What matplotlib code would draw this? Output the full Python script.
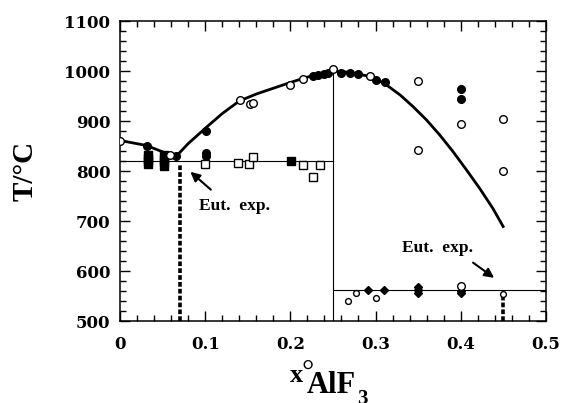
import matplotlib
matplotlib.use("Agg")
import matplotlib.pyplot as plt
from matplotlib.ticker import MultipleLocator

# Fuente tipo Times en negrita, como en la figura original
plt.rcParams['font.family'] = ['Liberation Serif', 'DejaVu Serif']
plt.rcParams['font.weight'] = 'bold'

# Curva del liquidus
curva_x = [0, 0.031, 0.065, 0.08, 0.101, 0.12, 0.14, 0.16, 0.179, 0.2, 0.218, 0.23, 0.24, 0.25,
           0.26, 0.27, 0.288, 0.3, 0.313, 0.329, 0.344, 0.36, 0.3755, 0.391, 0.407, 0.4225,
           0.438, 0.45]
curva_t = [861, 851, 828, 855, 887, 915, 940, 954, 965, 977, 987, 992, 997, 1000,
           999, 997, 991, 985, 972, 952, 929, 902, 872, 839, 802, 765,
           725, 689]

# Círculos abiertos
circ_abiertos_x = [0, 0.058, 0.141, 0.152, 0.156, 0.2, 0.215, 0.25, 0.293, 0.35, 0.35, 0.4, 0.4, 0.45, 0.45]
circ_abiertos_t = [860, 833, 942, 935, 937, 973, 985, 1005, 991, 981, 843, 895, 570, 904, 801]

# Círculos llenos
circ_llenos_x = [0.031, 0.065, 0.101, 0.101, 0.101, 0.226, 0.233, 0.239, 0.244, 0.26, 0.27, 0.279,
                 0.3, 0.311, 0.4, 0.4]
circ_llenos_t = [850, 830, 881, 837, 830, 990, 993, 994, 997, 997, 997, 995, 983, 979, 965, 944]

# Cuadrados llenos y abiertos
cuad_llenos_x = [0.033, 0.033, 0.033, 0.033, 0.052, 0.052, 0.052, 0.052, 0.201]
cuad_llenos_t = [832, 826, 820, 814, 832, 825, 818, 811, 821]
cuad_abiertos_x = [0.1, 0.139, 0.151, 0.156, 0.215, 0.226, 0.235]
cuad_abiertos_t = [815, 817, 815, 829, 812, 789, 812]

# Rombos llenos y puntos pequeños abiertos (zona de la segunda eutéctica)
rombos_x = [0.291, 0.31, 0.35, 0.35, 0.35, 0.4, 0.4]
rombos_t = [562, 563, 568, 562, 556, 561, 556]
peq_abiertos_x = [0.268, 0.277, 0.3, 0.45]
peq_abiertos_t = [541, 557, 547, 555]

# Eutécticas y posiciones experimentales
eut1_t = 820
eut2_t = 563
x_sep = 0.25
eut1_x = 0.07
eut2_x = 0.45

fig = plt.figure(figsize=(5.68, 4.03), dpi=100)
ax = fig.add_axes([120.2 / 568, 1 - 321 / 403, (545.7 - 120.2) / 568, 300 / 403])

# Líneas finas: eutécticas y separación
ax.plot([0, x_sep], [eut1_t, eut1_t], color='black', lw=0.8)
ax.plot([x_sep, 0.5], [eut2_t, eut2_t], color='black', lw=0.8)
ax.plot([x_sep, x_sep], [500, 1000], color='black', lw=0.8)

# Líneas punteadas gruesas
ax.plot([eut1_x, eut1_x], [500, eut1_t - 5], color='black', lw=2.6, ls=(0, (1.3, 0.6)))
ax.plot([eut2_x, eut2_x], [500, 555], color='black', lw=2.6, ls=(0, (1.3, 0.6)))

# Curva
ax.plot(curva_x, curva_t, color='black', lw=2.0, zorder=3, solid_joinstyle='round')

# Puntos experimentales
ax.plot(cuad_llenos_x, cuad_llenos_t, 's', ms=5.5, color='black', zorder=4)
ax.plot(cuad_abiertos_x, cuad_abiertos_t, 's', ms=5.5, mfc='white', mec='black', mew=1.0, zorder=4)
ax.plot(circ_llenos_x, circ_llenos_t, 'o', ms=5.5, color='black', zorder=4)
ax.plot(circ_abiertos_x, circ_abiertos_t, 'o', ms=5.5, mfc='white', mec='black', mew=1.0, zorder=5)
ax.plot(rombos_x, rombos_t, 'D', ms=4.5, color='black', zorder=4)
ax.plot(peq_abiertos_x, peq_abiertos_t, 'o', ms=4.2, mfc='white', mec='black', mew=1.0, zorder=5)

# Anotaciones
ax.text(0.0925, 722, 'Eut.  exp.', fontsize=12.5, fontweight='bold', ha='left', va='baseline')
ax.annotate('', xy=(0.080, 802), xytext=(0.109, 759),
            arrowprops=dict(arrowstyle='-|>', color='black', lw=1.5, mutation_scale=14))
ax.text(0.331, 639, 'Eut.  exp.', fontsize=12.5, fontweight='bold', ha='left', va='baseline')
ax.annotate('', xy=(0.442, 583), xytext=(0.412, 620),
            arrowprops=dict(arrowstyle='-|>', color='black', lw=1.5, mutation_scale=14))

ax.set_xlim(0, 0.5)
ax.set_ylim(500, 1100)
ax.xaxis.set_minor_locator(MultipleLocator(0.02))
ax.yaxis.set_major_locator(MultipleLocator(100))
ax.yaxis.set_minor_locator(MultipleLocator(20))
ax.set_xticks([0, 0.1, 0.2, 0.3, 0.4, 0.5])
ax.set_xticklabels(['0', '0.1', '0.2', '0.3', '0.4', '0.5'])
ax.tick_params(which='both', direction='in', top=True, right=True, width=1.0)
ax.tick_params(which='major', length=7)
ax.tick_params(which='minor', length=4)
ax.tick_params(axis='x', pad=11)
ax.tick_params(axis='y', pad=7)
# Las cifras del original son anchas y espaciadas: DejaVu Serif se acerca más
for lab in ax.get_xticklabels() + ax.get_yticklabels():
    lab.set_family('DejaVu Serif')
    lab.set_fontsize(12)
    lab.set_fontweight('bold')
for s in ax.spines.values():
    s.set_linewidth(1.1)

ax.set_ylabel('T/°C', fontsize=21, fontweight='bold', labelpad=19)

# Etiqueta del eje x armada por partes: x, °, AlF, 3
fig.text(290 / 568, 1 - 382 / 403, 'x', fontsize=19, fontweight='bold', va='baseline')
fig.text(308 / 568, 1 - 373 / 403, '°', fontsize=22, fontweight='normal', ha='center', va='center')
fig.text(307 / 568, 1 - 393 / 403, 'AlF', fontsize=22, fontweight='bold', va='baseline')
fig.text(357 / 568, 1 - 389 / 403, '3', fontsize=15, fontweight='bold', va='top')

fig.savefig('out.png', dpi=100)
